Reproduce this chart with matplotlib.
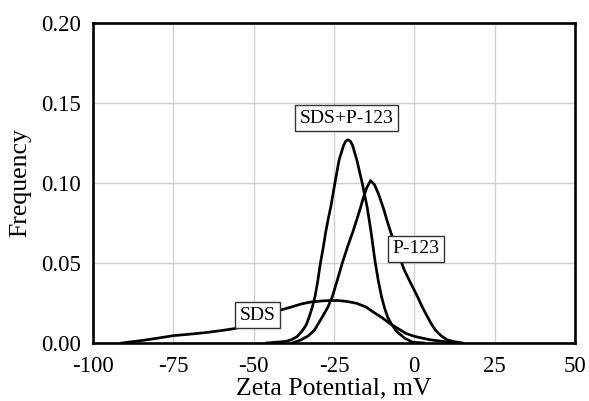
import matplotlib
matplotlib.use("Agg")
import matplotlib.pyplot as plt

plt.rcParams['font.family'] = ['Liberation Serif', 'DejaVu Serif']
plt.rcParams['axes.unicode_minus'] = False

# SDS + P-123 mixture
mix_x = [-46, -43, -40, -38.3, -36.5, -34.7, -33.6, -32.7, -31.8, -30.9, -30.1, -29.3, -28.4, -27.6, -26.8, -26, -24.7, -23.4, -22, -21.3, -20.6,
         -19.9, -19.2, -17.9, -16.2, -14.6, -13.5, -12.2, -11.2, -10.2, -9.2, -8.2, -7, -5.6, -3, -0.5, 3]
mix_y = [0.000, 0.0005, 0.001, 0.002, 0.004, 0.008, 0.0115, 0.0164, 0.022, 0.029, 0.038, 0.049, 0.059, 0.069, 0.0775, 0.085, 0.100, 0.1145, 0.1235, 0.1262, 0.127,
         0.1262, 0.1235, 0.1145, 0.100, 0.0842, 0.070, 0.051, 0.039, 0.029, 0.0215, 0.0158, 0.0115, 0.0075, 0.003, 0.0005, 0.000]

# P-123
p123_x = [-38, -35.2, -33, -31.1, -28.6, -27, -25.5, -24, -22.4, -20.8, -19.2, -18, -16.9, -15.9, -14.8, -13.6,
          -12.4, -11.1, -9.6, -8.4, -7.2, -5, -3.1, -1, 1, 2.5, 4.1, 5.3, 6.6, 8.4, 10.2, 12.5, 15]
p123_y = [0.000, 0.002, 0.0045, 0.008, 0.0164, 0.022, 0.029, 0.039, 0.050, 0.060, 0.069, 0.0765, 0.0835, 0.0905, 0.097, 0.1015,
          0.099, 0.093, 0.0842, 0.076, 0.0685, 0.056, 0.0456, 0.037, 0.029, 0.0225, 0.0164, 0.012, 0.008, 0.0045, 0.002, 0.0008, 0.000]

# SDS
sds_x = [-91, -88, -85, -80, -75, -70, -65, -60, -56, -52, -48, -45, -41.8, -38.3, -35, -32, -28, -24, -21, -17.9,
         -15, -12.8, -10, -7.7, -5, -2.6, 0, 2.6, 5, 7.7, 11, 14]
sds_y = [0.000, 0.0008, 0.0015, 0.003, 0.0046, 0.0055, 0.0065, 0.0078, 0.009, 0.011, 0.0145, 0.0175, 0.0205, 0.0225, 0.0245, 0.0257, 0.0264, 0.0266, 0.026, 0.0248,
         0.0225, 0.0194, 0.0158, 0.0123, 0.009, 0.006, 0.0042, 0.003, 0.002, 0.0013, 0.0006, 0.000]

x_ticks = [-100, -75, -50, -25, 0, 25, 50]
y_ticks = [0.00, 0.05, 0.10, 0.15, 0.20]

fig = plt.figure(figsize=(5.89, 4.01), dpi=100)
ax = fig.add_axes([0.158, 0.1446, 0.818, 0.798])

for xs, ys in [(mix_x, mix_y), (p123_x, p123_y), (sds_x, sds_y)]:
    ax.plot(xs, ys, color='black', lw=1.95, zorder=3, solid_joinstyle='round')

box = dict(boxstyle='square,pad=0.24', facecolor='white', edgecolor='#333333', lw=1.0)
ax.text(-21.0, 0.1406, 'SDS+P-123', fontsize=14, ha='center', va='center', bbox=box, zorder=5)
ax.text(0.6, 0.0588, 'P-123', fontsize=14, ha='center', va='center', bbox=box, zorder=5)
ax.text(-48.7, 0.0175, 'SDS', fontsize=14, ha='center', va='center', bbox=box, zorder=5)

ax.set_xlim(-100, 50)
ax.set_ylim(0, 0.20)
ax.set_xticks(x_ticks)
ax.set_yticks(y_ticks)
ax.set_xticklabels([str(v) for v in x_ticks])
ax.set_yticklabels(['%.2f' % v for v in y_ticks])
ax.grid(True, color='#d0d0d0', lw=1.0)
ax.set_axisbelow(True)
for s in ax.spines.values():
    s.set_linewidth(1.9)
ax.tick_params(length=0, labelsize=16.5)
ax.tick_params(axis='x', pad=9)
ax.tick_params(axis='y', pad=9)

ax.set_xlabel('Zeta Potential, mV', fontsize=18.5, labelpad=1)
ax.set_ylabel('Frequency', fontsize=18.5, labelpad=7)

fig.savefig('out.png', dpi=100)
